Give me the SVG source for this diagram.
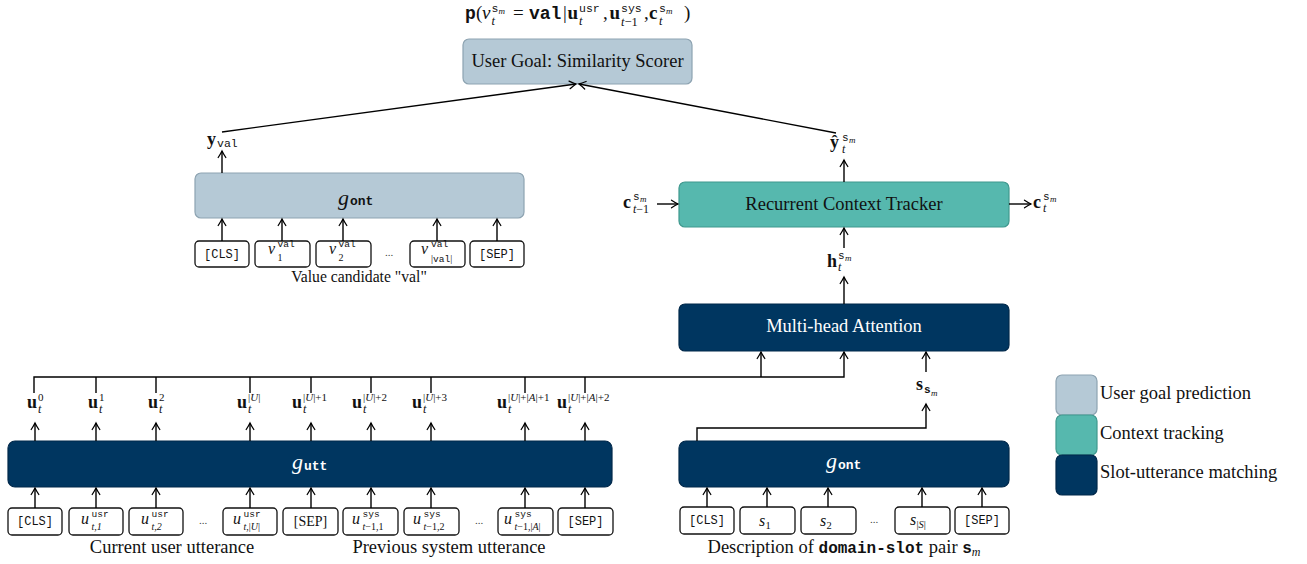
<svg xmlns="http://www.w3.org/2000/svg" width="1307" height="564" viewBox="0 0 1307 564">
  <defs>
    <marker id="arr" viewBox="-8 -5 10 10" refX="0" refY="0" markerWidth="10" markerHeight="10" markerUnits="userSpaceOnUse" orient="auto">
      <path d="M-6.5,-3.8 Q-2.5,-1.2 0,0 Q-2.5,1.2 -6.5,3.8" fill="none" stroke="#000" stroke-width="1.3" stroke-linecap="round"/>
    </marker>
    <style>
      .ser { font-family: "Liberation Serif", "Times New Roman", serif; }
      .it { font-family: "Liberation Serif", serif; font-style: italic; }
      .bf { font-family: "Liberation Serif", serif; font-weight: bold; }
      .tt { font-family: "Liberation Mono", "Courier New", monospace; }
      .ttb { font-family: "Liberation Mono", "Courier New", monospace; font-weight: bold; }
      .goal { fill: #b5c9d6; stroke: #8da3b1; stroke-width: 1.2; }
      .ctx { fill: #56b8ae; stroke: #3f988e; stroke-width: 1.2; }
      .match { fill: #003660; stroke: #00284a; stroke-width: 1.2; }
      .tok { fill: #fff; stroke: #111; stroke-width: 1.3; }
      .wire { fill: none; stroke: #000; stroke-width: 1.4; }
      .arrow { fill: none; stroke: #000; stroke-width: 1.4; marker-end: url(#arr); }
      .cap { font-family: "Liberation Serif", serif; font-size: 18.5px; fill: #111; }
      .light { fill: #fff; }
      .dots { font-family: "Liberation Serif", serif; font-size: 11px; fill: #444; }
    </style>
  </defs>

  <!-- output probability -->
  <g id="formula" fill="#111">
    <text class="ttb" x="465" y="19" font-size="18">p</text>
    <text class="ser" x="476" y="19" font-size="19">(</text>
    <text class="it" x="482" y="19" font-size="19">v</text>
    <text class="tt" x="491.5" y="12" font-size="11.5">s</text>
    <text class="it" x="498.5" y="14" font-size="9">m</text>
    <text class="it" x="491.5" y="25" font-size="12.5">t</text>
    <text class="ser" x="513" y="19" font-size="19">=</text>
    <text class="ttb" x="529" y="19" font-size="18">val</text>
    <text class="ser" x="563" y="19" font-size="19">|</text>
    <text class="bf" x="567.5" y="19" font-size="19">u</text>
    <text class="tt" x="579" y="12" font-size="11.5">usr</text>
    <text class="it" x="579" y="25" font-size="12.5">t</text>
    <text class="ser" x="603" y="19" font-size="19">,</text>
    <text class="bf" x="609.5" y="19" font-size="19">u</text>
    <text class="tt" x="621" y="12" font-size="11.5">sys</text>
    <text x="621" y="26" font-size="12.5"><tspan class="it">t</tspan><tspan class="ser">−1</tspan></text>
    <text class="ser" x="644" y="19" font-size="19">,</text>
    <text class="bf" x="649" y="19" font-size="19">c</text>
    <text class="tt" x="659" y="12" font-size="11.5">s</text>
    <text class="it" x="666" y="14" font-size="9">m</text>
    <text class="it" x="659" y="25" font-size="12.5">t</text>
    <text class="ser" x="684" y="19" font-size="19">)</text>
  </g>

  <g id="similarity-scorer">
    <rect class="goal" x="463" y="39" width="229" height="45" rx="6"/>
    <text class="cap" x="577.5" y="67" text-anchor="middle">User Goal: Similarity Scorer</text>
  </g>

  <g id="value-encoder">
    <rect class="goal" x="195" y="173" width="329" height="45" rx="6"/>
    <text class="it" x="338" y="205" font-size="22" fill="#111">g</text>
    <text class="ttb" x="350" y="205" font-size="13" fill="#111">ont</text>
  </g>

  <g id="value-tokens" fill="#111">
    <rect class="tok" x="195" y="241" width="54" height="26" rx="4"/>
    <text class="tt" x="222" y="258" font-size="12" text-anchor="middle">[CLS]</text>
    <rect class="tok" x="255" y="241" width="55" height="26" rx="4"/>
    <text class="it" x="268" y="254" font-size="16">v</text>
    <text class="tt" x="277.5" y="247" font-size="9.5">val</text>
    <text class="ser" x="277.5" y="261" font-size="10">1</text>
    <rect class="tok" x="316" y="241" width="55" height="26" rx="4"/>
    <text class="it" x="329" y="254" font-size="16">v</text>
    <text class="tt" x="338.5" y="247" font-size="9.5">val</text>
    <text class="ser" x="338.5" y="261" font-size="10">2</text>
    <text class="dots" x="389" y="256" text-anchor="middle">...</text>
    <rect class="tok" x="410" y="241" width="55" height="26" rx="4"/>
    <text class="it" x="421" y="254" font-size="16">v</text>
    <text class="tt" x="431" y="246.5" font-size="9.5">val</text>
    <text x="431" y="262" font-size="10"><tspan class="ser">|</tspan><tspan class="tt" font-size="9.5">val</tspan><tspan class="ser">|</tspan></text>
    <rect class="tok" x="470" y="241" width="54" height="26" rx="4"/>
    <text class="tt" x="497" y="258" font-size="12" text-anchor="middle">[SEP]</text>
    <text class="ser" x="359" y="282" font-size="15.7" text-anchor="middle">Value candidate "val"</text>
  </g>

  <g id="context-tracker">
    <rect class="ctx" x="679" y="182" width="330" height="45" rx="6"/>
    <text class="cap" x="844" y="210" text-anchor="middle">Recurrent Context Tracker</text>
  </g>

  <g id="attention">
    <rect class="match" x="679" y="304" width="330" height="47" rx="6"/>
    <text class="cap light" x="844" y="332" text-anchor="middle">Multi-head Attention</text>
  </g>

  <g id="utterance-encoder">
    <rect class="match" x="8" y="441" width="604" height="46" rx="7"/>
    <text class="it light" x="292" y="469" font-size="22">g</text>
    <text class="ttb light" x="304" y="470" font-size="13">utt</text>
  </g>

  <g id="slot-encoder">
    <rect class="match" x="679" y="441" width="330" height="46" rx="7"/>
    <text class="it light" x="826" y="468" font-size="22">g</text>
    <text class="ttb light" x="838" y="469" font-size="13">ont</text>
  </g>

  <g id="utterance-tokens" fill="#111">
    <rect class="tok" x="8" y="508" width="54" height="27" rx="4"/>
    <text class="tt" x="35" y="525" font-size="12" text-anchor="middle">[CLS]</text>
    <rect class="tok" x="69" y="508" width="54" height="27" rx="4"/>
    <text class="it" x="81" y="524" font-size="16">u</text>
    <text class="tt" x="91.5" y="516.5" font-size="9.5">usr</text>
    <text class="it" x="91.5" y="530" font-size="10">t,<tspan class="ser">1</tspan></text>
    <rect class="tok" x="129" y="508" width="54" height="27" rx="4"/>
    <text class="it" x="141" y="524" font-size="16">u</text>
    <text class="tt" x="151.5" y="516.5" font-size="9.5">usr</text>
    <text class="it" x="151.5" y="530" font-size="10">t,<tspan class="ser">2</tspan></text>
    <text class="dots" x="203" y="524" text-anchor="middle">...</text>
    <rect class="tok" x="223" y="508" width="54" height="27" rx="4"/>
    <text class="it" x="233" y="524" font-size="16">u</text>
    <text class="tt" x="243.5" y="516.5" font-size="9.5">usr</text>
    <text x="243.5" y="530" font-size="10"><tspan class="it">t</tspan><tspan class="ser">,|</tspan><tspan class="it">U</tspan><tspan class="ser">|</tspan></text>
    <rect class="tok" x="283" y="508" width="55" height="27" rx="4"/>
    <text class="ser" x="310.5" y="526" font-size="14" text-anchor="middle">[SEP]</text>
    <rect class="tok" x="343" y="508" width="55" height="27" rx="4"/>
    <text class="it" x="352" y="524" font-size="16">u</text>
    <text class="tt" x="362.5" y="516.5" font-size="9.5">sys</text>
    <text x="362.5" y="530" font-size="10"><tspan class="it">t</tspan><tspan class="ser">−1,1</tspan></text>
    <rect class="tok" x="404" y="508" width="55" height="27" rx="4"/>
    <text class="it" x="413" y="524" font-size="16">u</text>
    <text class="tt" x="423.5" y="516.5" font-size="9.5">sys</text>
    <text x="423.5" y="530" font-size="10"><tspan class="it">t</tspan><tspan class="ser">−1,2</tspan></text>
    <text class="dots" x="479" y="524" text-anchor="middle">...</text>
    <rect class="tok" x="498" y="508" width="55" height="27" rx="4"/>
    <text class="it" x="504" y="524" font-size="16">u</text>
    <text class="tt" x="514.5" y="516.5" font-size="9.5">sys</text>
    <text x="514.5" y="530" font-size="10"><tspan class="it">t</tspan><tspan class="ser">−1,|</tspan><tspan class="it">A</tspan><tspan class="ser">|</tspan></text>
    <rect class="tok" x="558" y="508" width="55" height="27" rx="4"/>
    <text class="tt" x="585.5" y="525" font-size="12" text-anchor="middle">[SEP]</text>
    <text class="cap" x="172" y="553" text-anchor="middle">Current user utterance</text>
    <text class="cap" x="449" y="553" text-anchor="middle">Previous system utterance</text>
  </g>

  <g id="slot-tokens" fill="#111">
    <rect class="tok" x="680" y="507" width="54" height="27" rx="4"/>
    <text class="tt" x="707" y="524" font-size="12" text-anchor="middle">[CLS]</text>
    <rect class="tok" x="740" y="507" width="55" height="27" rx="4"/>
    <text class="it" x="759" y="526" font-size="16">s</text>
    <text class="ser" x="765.5" y="529" font-size="10.5">1</text>
    <rect class="tok" x="801" y="507" width="55" height="27" rx="4"/>
    <text class="it" x="820" y="526" font-size="16">s</text>
    <text class="ser" x="826.5" y="529" font-size="10.5">2</text>
    <text class="dots" x="874" y="523" text-anchor="middle">...</text>
    <rect class="tok" x="895" y="507" width="55" height="27" rx="4"/>
    <text class="it" x="910" y="525" font-size="16">s</text>
    <text x="916.5" y="528" font-size="10.5"><tspan class="ser">|</tspan><tspan class="it">S</tspan><tspan class="ser">|</tspan></text>
    <rect class="tok" x="955" y="507" width="54" height="27" rx="4"/>
    <text class="tt" x="982" y="524" font-size="12" text-anchor="middle">[SEP]</text>
    <text class="cap" x="844" y="553" text-anchor="middle">Description of <tspan class="ttb" font-size="16">domain-slot</tspan> pair <tspan class="ttb" font-size="16">s</tspan><tspan class="it" font-size="12" dy="3">m</tspan></text>
  </g>

  <!-- vector labels -->
  <g id="labels" fill="#111">
    <text class="bf" x="207" y="145" font-size="18">y</text>
    <text class="tt" x="217" y="147" font-size="11.5">val</text>

    <text class="bf" x="830" y="148" font-size="18">ŷ</text>
    <text class="tt" x="842" y="141" font-size="11">s</text>
    <text class="it" x="849" y="143" font-size="9">m</text>
    <text class="it" x="842" y="153" font-size="12">t</text>

    <text class="bf" x="623" y="208" font-size="18">c</text>
    <text class="tt" x="633" y="200" font-size="11">s</text>
    <text class="it" x="640" y="202" font-size="9">m</text>
    <text x="633" y="213" font-size="12"><tspan class="it">t</tspan><tspan class="ser">−1</tspan></text>

    <text class="bf" x="1033" y="208" font-size="18">c</text>
    <text class="tt" x="1043" y="200" font-size="11">s</text>
    <text class="it" x="1050" y="202" font-size="9">m</text>
    <text class="it" x="1043" y="212" font-size="12">t</text>

    <text class="bf" x="827" y="267" font-size="18">h</text>
    <text class="tt" x="838" y="259" font-size="11">s</text>
    <text class="it" x="845" y="261" font-size="9">m</text>
    <text class="it" x="838" y="271" font-size="12">t</text>

    <text class="bf" x="916" y="390" font-size="18">s</text>
    <text class="ttb" x="924" y="393" font-size="11">s</text>
    <text class="it" x="931" y="396" font-size="9">m</text>

    <text class="bf" x="27" y="408" font-size="18">u</text>
    <text class="ser" x="38" y="401" font-size="11">0</text>
    <text class="it" x="38" y="413" font-size="12">t</text>

    <text class="bf" x="88" y="408" font-size="18">u</text>
    <text class="ser" x="99" y="401" font-size="11">1</text>
    <text class="it" x="99" y="413" font-size="12">t</text>

    <text class="bf" x="148" y="408" font-size="18">u</text>
    <text class="ser" x="159" y="401" font-size="11">2</text>
    <text class="it" x="159" y="413" font-size="12">t</text>

    <text class="bf" x="237" y="408" font-size="18">u</text>
    <text x="248" y="401" font-size="11"><tspan class="ser">|</tspan><tspan class="it">U</tspan><tspan class="ser">|</tspan></text>
    <text class="it" x="248" y="413" font-size="12">t</text>

    <text class="bf" x="292" y="408" font-size="18">u</text>
    <text x="303" y="401" font-size="11"><tspan class="ser">|</tspan><tspan class="it">U</tspan><tspan class="ser">|+1</tspan></text>
    <text class="it" x="303" y="413" font-size="12">t</text>

    <text class="bf" x="352" y="408" font-size="18">u</text>
    <text x="363" y="401" font-size="11"><tspan class="ser">|</tspan><tspan class="it">U</tspan><tspan class="ser">|+2</tspan></text>
    <text class="it" x="363" y="413" font-size="12">t</text>

    <text class="bf" x="412" y="408" font-size="18">u</text>
    <text x="423" y="401" font-size="11"><tspan class="ser">|</tspan><tspan class="it">U</tspan><tspan class="ser">|+3</tspan></text>
    <text class="it" x="423" y="413" font-size="12">t</text>

    <text class="bf" x="497" y="408" font-size="18">u</text>
    <text x="508" y="401" font-size="11"><tspan class="ser">|</tspan><tspan class="it">U</tspan><tspan class="ser">|+|</tspan><tspan class="it">A</tspan><tspan class="ser">|+1</tspan></text>
    <text class="it" x="508" y="413" font-size="12">t</text>

    <text class="bf" x="557" y="408" font-size="18">u</text>
    <text x="568" y="401" font-size="11"><tspan class="ser">|</tspan><tspan class="it">U</tspan><tspan class="ser">|+|</tspan><tspan class="it">A</tspan><tspan class="ser">|+2</tspan></text>
    <text class="it" x="568" y="413" font-size="12">t</text>
  </g>

  <g id="connectors">
    <!-- into the scorer -->
    <path class="arrow" d="M222,132 L576,84"/>
    <path class="arrow" d="M836,133 L579,84"/>
    <path class="arrow" d="M222,173 V151"/>
    <path class="arrow" d="M844,182 V160"/>
    <!-- context tracker in/out -->
    <path class="arrow" d="M657,204 H678"/>
    <path class="arrow" d="M1009,204 H1031"/>
    <path class="arrow" d="M844,248 V228"/>
    <path class="arrow" d="M844,304 V277"/>
    <!-- value tokens into value encoder -->
    <path class="arrow" d="M222,241 V219"/>
    <path class="arrow" d="M282,241 V219"/>
    <path class="arrow" d="M343,241 V219"/>
    <path class="arrow" d="M437,241 V219"/>
    <path class="arrow" d="M497,241 V219"/>
    <!-- utterance tokens into utterance encoder -->
    <path class="arrow" d="M35,508 V488"/>
    <path class="arrow" d="M96,508 V488"/>
    <path class="arrow" d="M156,508 V488"/>
    <path class="arrow" d="M250,508 V488"/>
    <path class="arrow" d="M311,508 V488"/>
    <path class="arrow" d="M371,508 V488"/>
    <path class="arrow" d="M431,508 V488"/>
    <path class="arrow" d="M525,508 V488"/>
    <path class="arrow" d="M585,508 V488"/>
    <!-- slot tokens into slot encoder -->
    <path class="arrow" d="M707,507 V488"/>
    <path class="arrow" d="M767,507 V488"/>
    <path class="arrow" d="M828,507 V488"/>
    <path class="arrow" d="M922,507 V488"/>
    <path class="arrow" d="M982,507 V488"/>
    <!-- encoder outputs -->
    <path class="arrow" d="M35,441 V423"/>
    <path class="arrow" d="M96,441 V423"/>
    <path class="arrow" d="M156,441 V423"/>
    <path class="arrow" d="M250,441 V423"/>
    <path class="arrow" d="M311,441 V423"/>
    <path class="arrow" d="M371,441 V423"/>
    <path class="arrow" d="M431,441 V423"/>
    <path class="arrow" d="M525,441 V423"/>
    <path class="arrow" d="M585,441 V423"/>
    <!-- token bus into attention -->
    <path class="arrow" d="M34,393 V377 H844 V352"/>
    <path class="arrow" d="M761,377 V352"/>
    <path class="wire" d="M96,377 V393 M156,377 V393 M250,377 V393 M311,377 V393 M371,377 V393 M431,377 V393 M525,377 V393 M585,377 V393"/>
    <!-- slot representation into attention -->
    <path class="arrow" d="M697,441 V428 H926 V404"/>
    <path class="arrow" d="M926,372 V352"/>
  </g>

  <g id="legend">
    <rect class="goal" x="1056" y="375" width="41" height="40" rx="6"/>
    <rect class="ctx" x="1056" y="415" width="41" height="40" rx="6"/>
    <rect class="match" x="1056" y="455" width="41" height="40" rx="6"/>
    <text class="cap" x="1100" y="399">User goal prediction</text>
    <text class="cap" x="1100" y="439">Context tracking</text>
    <text class="cap" x="1100" y="478">Slot-utterance matching</text>
  </g>
</svg>
